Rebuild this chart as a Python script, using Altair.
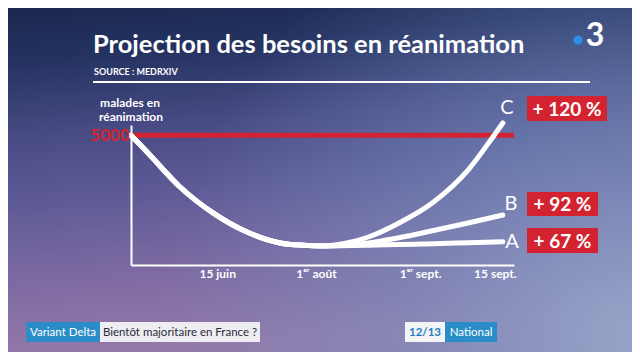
import altair as alt
import pandas as pd

# ---------------- data ----------------
common_t = [0, 4.2, 12.8, 21.4, 30.3, 38.9, 45, 50]
common_v = [5000, 4360, 3010, 2010, 1270, 850, 760, 735]

branch_t = {
    "A": [50, 62, 70, 79, 88, 97.1],
    "B": [50, 57, 62, 70, 79, 88, 97.1],
    "C": [50, 57, 62, 70, 79, 88, 94.5, 97.1],
}
branch_v = {
    "A": [735, 760, 790, 820, 860, 900],
    "B": [735, 780, 850, 1050, 1330, 1620, 1930],
    "C": [735, 870, 1080, 1620, 2430, 3660, 4940, 5480],
}
scenarios = ["C", "B", "A"]
pct_labels = ["+ 120 %", "+ 92 %", "+ 67 %"]

threshold = [5000]
tick_pos = [22.5, 48.3, 75.5, 95]
tick_labels = ["15 juin", "1ᵉʳ août", "1ᵉʳ sept.", "15 sept."]

title_txt = "Projection des besoins en réanimation"
source_txt = "SOURCE : MEDRXIV"
ytitle = ["malades en", "réanimation"]
banner = ["Variant Delta", "Bientôt majoritaire en France ?", "12/13", "National"]

# ---------------- styles / layout ----------------
RED = "#d42330"
WHITE = "#ffffff"
BLUE = "#2a8dc8"
FONT = "Lato"
OX, OY = 131, 125          # page position of plot origin (top-left)
W, H = 383, 140
PAD = dict(left=123, top=117, right=118, bottom=87)

rows = []
for s in scenarios:
    ts = common_t[:-1] + branch_t[s]
    vs = common_v[:-1] + branch_v[s]
    for i, (t, v) in enumerate(zip(ts, vs)):
        rows.append({"scenario": s, "i": i, "t": t, "v": v})
lines_df = pd.DataFrame(rows)

one = pd.DataFrame({"k": [0]})


def px(x):
    return x - OX


def py(y):
    return y - OY


def txt(text, x, y, **kw):
    return alt.Chart(pd.DataFrame({"t": [text]})).mark_text(**kw).encode(
        x=alt.value(px(x)), y=alt.value(py(y)), text="t:N")


def box(x1, y1, x2, y2, color):
    return alt.Chart(one).mark_rect(color=color).encode(
        x=alt.value(px(x1)), x2=alt.value(px(x2)),
        y=alt.value(py(y1)), y2=alt.value(py(y2)))


bg = alt.Chart(one).mark_rect(
    color=alt.LinearGradient(
        gradient="linear", x1=0, y1=0, x2=0.15, y2=1,
        stops=[
            alt.GradientStop(color="#1a2850", offset=0),
            alt.GradientStop(color="#243260", offset=0.15),
            alt.GradientStop(color="#4a4c86", offset=0.38),
            alt.GradientStop(color="#5d5a96", offset=0.55),
            alt.GradientStop(color="#7d6aa2", offset=0.78),
            alt.GradientStop(color="#9479a9", offset=1),
        ])
).encode(x=alt.value(-PAD["left"]), x2=alt.value(W + PAD["right"]),
         y=alt.value(-PAD["top"]), y2=alt.value(H + PAD["bottom"]))

bg2 = alt.Chart(one).mark_rect(
    color=alt.RadialGradient(
        gradient="radial", x1=1.0, y1=0.75, x2=1.0, y2=0.75, r1=0, r2=0.75,
        stops=[
            alt.GradientStop(color="rgba(150,178,210,0.75)", offset=0),
            alt.GradientStop(color="rgba(120,150,195,0.45)", offset=0.5),
            alt.GradientStop(color="rgba(110,140,190,0)", offset=1),
        ])
).encode(x=alt.value(-PAD["left"]), x2=alt.value(W + PAD["right"]),
         y=alt.value(-PAD["top"]), y2=alt.value(H + PAD["bottom"]))

label_expr = " : ".join(
    f"datum.value == {p} ? '{l}'" for p, l in zip(tick_pos, tick_labels)) + " : ''"

x_enc = alt.X("t:Q", scale=alt.Scale(domain=[0, 100], nice=False, zero=False),
              axis=alt.Axis(values=tick_pos, labelExpr=label_expr, title=None,
                            ticks=False, grid=False, domainColor=WHITE, domainWidth=2,
                            labelColor=WHITE, labelFont=FONT, labelFontWeight="bold",
                            labelFontSize=12, labelPadding=3, labelFlush=False,
                            zindex=1))
y_enc = alt.Y("v:Q", scale=alt.Scale(domain=[0, 5400], nice=False),
              axis=alt.Axis(values=threshold, format="d", title=None, ticks=False,
                            grid=False, domainColor=WHITE, domainWidth=2,
                            labelColor=RED, labelFont=FONT, labelFontSize=17,
                            labelFontWeight="bold", labelPadding=2, labelFlush=False,
                            zindex=1))

red_rule = alt.Chart(pd.DataFrame({"v": threshold})).mark_rule(
    color=RED, strokeWidth=5).encode(y=alt.Y("v:Q"), x=alt.datum(0), x2=alt.datum(100))

lines = alt.Chart(lines_df).mark_line(
    color=WHITE, strokeWidth=5, strokeCap="round", strokeJoin="round",
    interpolate="monotone").encode(x=x_enc, y=y_enc, detail="scenario:N",
                                   order="i:Q")

layers = [bg, bg2, red_rule, lines]

# header
layers.append(txt(title_txt, 93, 45, align="left", baseline="middle",
                  font=FONT, fontSize=25.5, fontWeight="bold", color=WHITE))
layers.append(txt(source_txt, 94, 72, align="left", baseline="middle",
                  font=FONT, fontSize=9, fontWeight="bold", color=WHITE))
layers.append(alt.Chart(one).mark_rule(color=WHITE, strokeWidth=2).encode(
    x=alt.value(px(93)), x2=alt.value(px(590)), y=alt.value(py(82))))
# logo
layers.append(alt.Chart(one).mark_circle(color="#2d8ee6", opacity=1, size=85).encode(
    x=alt.value(px(578)), y=alt.value(py(40))))
layers.append(txt("3", 595, 36, align="center", baseline="middle",
                  font=FONT, fontSize=32, fontWeight="bold", color=WHITE))
# y title
layers.append(txt(ytitle[0], 130, 103, align="center", baseline="middle",
                  font=FONT, fontSize=12, fontWeight="bold", color=WHITE))
layers.append(txt(ytitle[1], 131, 117, align="center", baseline="middle",
                  font=FONT, fontSize=12, fontWeight="bold", color=WHITE))

# scenario labels
letter_pos = [(507, 108), (511, 204), (512, 242)]
box_pos = [(527, 96, 607, 121), (527, 192, 598, 216), (527, 228, 598, 253)]
for s, p, (lx, ly), (bx1, by1, bx2, by2) in zip(scenarios, pct_labels, letter_pos, box_pos):
    layers.append(txt(s, lx, ly, align="center", baseline="middle",
                      font=FONT, fontSize=20, color=WHITE))
    layers.append(box(bx1, by1, bx2, by2, RED))
    layers.append(txt(p, (bx1 + bx2) / 2, (by1 + by2) / 2 + 1, align="center",
                      baseline="middle", font=FONT, fontSize=19, fontWeight="bold",
                      color=WHITE))

# bottom banner
banner_boxes = [(26, 100, BLUE, WHITE), (100, 260, "#eeeef2", "#2a2a3a"),
                (405, 445, "#f4f4f6", "#1f7fc0"), (445, 497, BLUE, WHITE)]
for t, (x1, x2, bcol, tcol) in zip(banner, banner_boxes):
    layers.append(box(x1, 322, x2, 342, bcol))
    layers.append(txt(t, (x1 + x2) / 2, 332.5, align="center", baseline="middle",
                      font=FONT, fontSize=11.5,
                      fontWeight="bold" if t == "12/13" else "normal", color=tcol))

chart = alt.layer(*layers).properties(
    width=W, height=H, padding=PAD,
    autosize=alt.AutoSizeParams(type="none"),
    background="#3a3f70",
).configure_view(stroke=None).configure(font=FONT)

chart.save("out.html", embed_options={"renderer": "svg", "actions": False})
